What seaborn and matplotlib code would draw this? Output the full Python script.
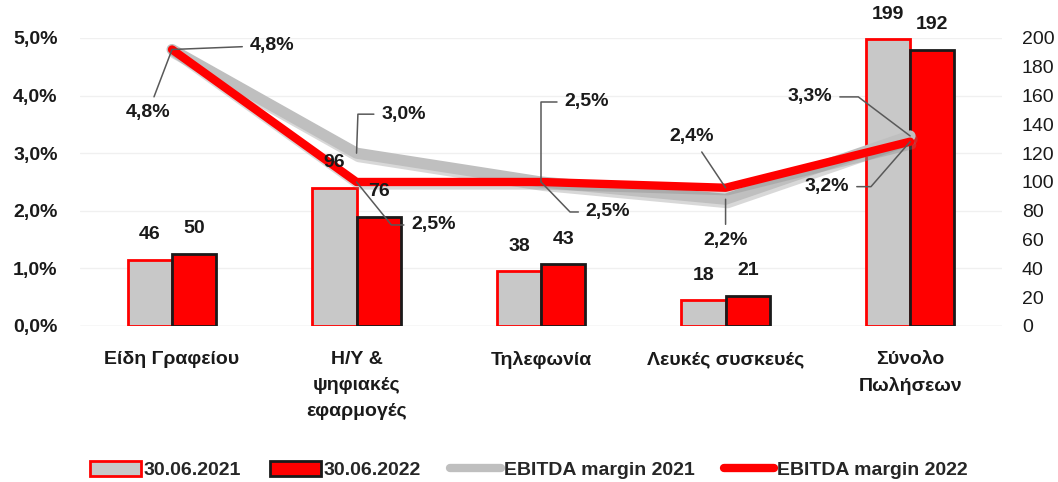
import numpy as np
import pandas as pd
import matplotlib
matplotlib.use("Agg")
import matplotlib.pyplot as plt
import matplotlib.patheffects as pe
from matplotlib.patches import Patch
from matplotlib.lines import Line2D
import seaborn as sns

# ---------------- data ----------------
categories = ["Είδη Γραφείου", "Η/Υ &\nψηφιακές\nεφαρμογές", "Τηλεφωνία",
              "Λευκές συσκευές", "Σύνολο\nΠωλήσεων"]
series_labels = ["30.06.2021", "30.06.2022"]
sales_2021 = [46, 96, 38, 18, 199]
sales_2022 = [50, 76, 43, 21, 192]
line_labels = ["EBITDA margin 2021", "EBITDA margin 2022"]
margin_2021 = [4.8, 3.0, 2.5, 2.2, 3.3]
margin_2022 = [4.8, 2.5, 2.5, 2.4, 3.2]
left_ticks = [0, 1, 2, 3, 4, 5]
right_ticks = list(range(0, 201, 20))

# label placement (pixel offsets) and leader-line angles (None = straight)
off_2021 = [(-24, -63), (47, 39), (46, 80), (0, -41), (-100, 39)]
off_2022 = [(100, 4), (77, -43), (67, -30), (-34, 51), (-83, -45)]
ang_2021 = [None, 88, 90, None, -37]
ang_2022 = [None, -51, -46, None, 49]

sns.set_theme(style="white")
plt.rcParams["font.family"] = ["Liberation Sans", "DejaVu Sans"]

FS = 14
fig = plt.figure(figsize=(10.58, 4.82), dpi=100)
ax = fig.add_axes([0.0754, 0.3237, 0.872, 0.5975])
ax2 = ax.twinx()

df = pd.DataFrame({
    "cat": categories * 2,
    "series": [series_labels[0]] * len(categories) + [series_labels[1]] * len(categories),
    "value": sales_2021 + sales_2022,
})
sns.barplot(data=df, x="cat", y="value", hue="series",
            palette=["#c8c8c8", "#ff0000"], width=0.48, saturation=1,
            legend=False, ax=ax, zorder=2)
edge_cols = ["#ff0000", "#1a1a1a"]
for cont, ec in zip(ax.containers, edge_cols):
    for b in cont:
        b.set_edgecolor(ec)
        b.set_linewidth(2)

ax.set_ylim(0, right_ticks[-1])
ax.set_xlim(-0.5, len(categories) - 0.5)
ax.set_yticks(right_ticks)
ax.set_yticklabels([str(t) for t in right_ticks], fontsize=FS, color="#1a1a1a")
ax.tick_params(axis="y", length=0, pad=14)
ax.tick_params(axis="x", length=0, pad=18)
ax.set_xticks(range(len(categories)))
ax.set_xticklabels(categories, fontsize=FS, fontweight="bold", color="#1a1a1a",
                   linespacing=1.68, va="top")
ax.set_xlabel("")
ax.set_ylabel("")
for s in ax.spines.values():
    s.set_visible(False)
scale = right_ticks[-1] / left_ticks[-1]
for t in left_ticks:
    ax.axhline(t * scale, color="#f0f0f0" if t else "#d9d9d9", lw=1, zorder=0)

# ---------------- lines ----------------
xpos = np.arange(len(categories))
sns.lineplot(x=xpos, y=margin_2021, color="#bfbfbf", lw=8, ax=ax2,
             path_effects=[pe.SimpleLineShadow(offset=(1.5, -2.5), shadow_color="#7f7f7f", alpha=0.3),
                           pe.Normal()])
sns.lineplot(x=xpos, y=margin_2022, color="#ff0000", lw=6, ax=ax2,
             path_effects=[pe.SimpleLineShadow(offset=(1.5, -2.5), shadow_color="#7f7f7f", alpha=0.3),
                           pe.Normal()])
ax2.set_ylim(0, left_ticks[-1])
ax2.yaxis.tick_left()
ax2.set_yticks(left_ticks)
ax2.set_yticklabels([f"{t:.1f}".replace(".", ",") + "%" for t in left_ticks],
                    fontsize=FS, fontweight="bold", color="#1a1a1a")
ax2.tick_params(axis="y", length=0, pad=16)
ax2.set_ylabel("")
for s in ax2.spines.values():
    s.set_visible(False)
ax.yaxis.tick_right()

# bar value labels (drawn on the top axes so they sit above the lines)
for cont, vals in zip(ax.containers, [sales_2021, sales_2022]):
    for b, v in zip(cont, vals):
        ax2.annotate(str(v), xy=(b.get_x() + b.get_width() / 2, b.get_height()),
                     xycoords=ax.transData, xytext=(0, 25), textcoords="offset pixels",
                     ha="center", va="center", fontsize=FS, fontweight="bold",
                     color="#1a1a1a")

def fmt(v):
    return f"{v:.1f}".replace(".", ",") + "%"

for vals, offs, angs in [(margin_2021, off_2021, ang_2021), (margin_2022, off_2022, ang_2022)]:
    for i, (v, o, a) in enumerate(zip(vals, offs, angs)):
        cs = "arc3" if a is None else f"angle,angleA=0,angleB={a},rad=0"
        ax2.annotate(fmt(v), xy=(i, v), xytext=o, textcoords="offset pixels",
                     ha="center", va="center", fontsize=FS, fontweight="bold",
                     color="#1a1a1a",
                     arrowprops=dict(arrowstyle="-", color="#595959", lw=1.1,
                                     shrinkA=3, shrinkB=0, connectionstyle=cs))

# ---------------- legend ----------------
handles = [Patch(facecolor="#c8c8c8", edgecolor="#ff0000", lw=2),
           Patch(facecolor="#ff0000", edgecolor="#1a1a1a", lw=2),
           Line2D([], [], color="#bfbfbf", lw=6),
           Line2D([], [], color="#ff0000", lw=6)]
fig.legend(handles, series_labels + line_labels, loc="lower center",
           bbox_to_anchor=(0.5, -0.03), ncol=4, frameon=False,
           prop={"weight": "bold", "size": FS}, handlelength=2.6, handleheight=0.8,
           handletextpad=0.15, columnspacing=1.5)

fig.savefig("out.png", dpi=100)
